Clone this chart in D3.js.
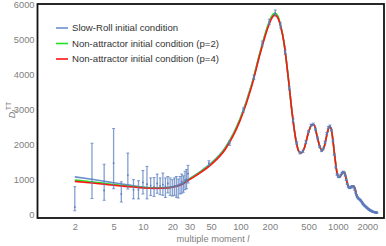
<!DOCTYPE html>
<html>
<head>
<meta charset="utf-8">
<script src="https://cdn.jsdelivr.net/npm/d3@7"></script>
<style>
  body { margin: 0; background: #fff; }
  svg { display: block; font-family: "Liberation Sans", Arial, sans-serif; }
</style>
</head>
<body>
<script>
// multipole grid shared by the three model curves
var curveEll = [2,3,4,5,7,10,13,16,20,25,30,40,50,70,100,130,160,190,210,225,240,260,280,310,340,370,400,420,450,500,
  540,570,610,650,690,730,780,820,850,890,930,980,1030,1080,1130,1170,1220,1270,1320,1380,1440,1490,1550,1620,1700,
  1800,1900,2000,2100,2200,2300,2400,2500];

var slowRoll = [1090,1020,965,920,860,800,775,775,805,890,1040,1270,1480,1930,2780,3720,4680,5380,5660,5740,5680,5380,4920,3900,2880,2150,1800,1775,1900,2370,
  2580,2570,2260,1960,1840,1990,2360,2530,2480,2110,1650,1200,1080,1140,1230,1210,1010,830,770,805,825,770,580,480,425,
  335,255,198,150,115,92,78,68];

var nonAttr2 = [1000,950,905,870,825,785,770,772,800,880,1025,1250,1460,1910,2760,3700,4670,5390,5690,5770,5700,5380,4920,3900,2880,2150,1800,1775,1900,2370,
  2580,2570,2260,1960,1840,1990,2360,2530,2480,2110,1650,1200,1080,1140,1230,1210,1010,830,770,805,825,770,580,480,425,
  335,255,198,150,115,92,78,68];

var nonAttr4 = [960,915,880,850,810,775,762,765,792,870,1010,1230,1440,1880,2720,3660,4630,5330,5630,5710,5650,5360,4910,3900,2880,2150,1800,1775,1900,2370,
  2580,2570,2260,1960,1840,1990,2360,2530,2480,2110,1650,1200,1080,1140,1230,1210,1010,830,770,805,825,770,580,480,425,
  335,255,198,150,115,92,78,68];

// low-l data points (unbinned)
var lowEll = [2,3,4,5,6,7,8,9,10,11,12,13,14,15,16,17,18,19,20,21,22,23,24,25,26,27,28,29];
var lowD   = [225,940,700,1480,600,1140,720,720,930,880,840,800,900,830,870,820,900,780,800,820,840,850,880,950,900,1000,1020,1180];
var lowLo  = [120,470,420,750,370,740,460,460,600,460,560,530,620,580,560,500,630,560,540,560,505,486,600,620,650,720,750,914];
var lowHi  = [810,2050,1450,2470,950,1770,1010,980,1270,1390,1060,1070,1170,1060,1200,1060,1100,1060,1010,1060,1100,1030,1100,1170,1120,1250,1300,1419];

// high-l binned data points
var binEll = [47.5,77.5,107.5,137.5,167.5,197.5,227.5,257.5,287.5,317.5,347.5,377.5,407.5,437.5,467.5,497.5,527.5,557.5,587.5,617.5,
  647.5,677.5,707.5,737.5,767.5,797.5,827.5,857.5,887.5,917.5,947.5,977.5,1007.5,1037.5,1067.5,1097.5,1127.5,1157.5,1187.5,1217.5,
  1247.5,1277.5,1307.5,1337.5,1367.5,1397.5,1427.5,1457.5,1487.5,1517.5,1547.5,1577.5,1607.5,1637.5,1667.5,1697.5,1727.5,1757.5,1787.5,1817.5,
  1847.5,1877.5,1907.5,1937.5,1967.5,1997.5,2027.5,2057.5,2087.5,2117.5,2147.5,2177.5,2207.5,2237.5,2267.5,2297.5,2327.5,2357.5,2387.5,2417.5,
  2447.5,2477.5,2507.5];
var binD = [1480,2050,3000,3930,4900,5520,5770,5420,4650,3620,2700,2060,1780,1820,2080,2380,2560,2590,2450,2200,
  1960,1840,1890,2080,2330,2500,2540,2420,2120,1720,1370,1160,1090,1090,1140,1200,1230,1210,1130,1010,
  890,810,770,775,805,825,820,785,720,640,570,515,480,460,445,425,395,365,335,305,
  285,265,248,232,215,198,182,168,155,143,133,123,114,106,99,92,86,82,78,75,
  72,69,66];
var binErr = [70,60,60,65,70,75,85,70,60,50,45,40,35,35,35,35,35,35,35,32,
  30,30,30,30,30,30,30,28,28,26,25,24,22,22,22,22,22,22,20,20,
  20,18,18,18,18,18,18,18,18,16,16,16,16,16,16,16,15,15,15,15,
  15,15,15,15,15,15,15,15,15,15,15,15,15,15,15,15,15,15,15,15,
  15,15,15];

var xTicks = [2,5,10,20,30,50,100,200,500,1000,2000];
var yTicks = [0,1000,2000,3000,4000,5000,6000];
var legendLabels = ["Slow-Roll initial condition","Non-attractor initial condition (p=2)","Non-attractor initial condition (p=4)"];
var colors = ["#6c8fcd","#22e022","#ff1414"];

var width = 386, height = 246;
var frame = {left: 37.5, right: 384, top: 4, bottom: 218};

var x = d3.scaleLog().domain([2, 2000]).range([74.8, 367.3]);
var y = d3.scaleLinear().domain([0, 6000]).range([215, 5]);

var svg = d3.select("body").append("svg")
    .attr("width", width)
    .attr("height", height);

// axes (labels only, no tick marks)
var yAxis = svg.append("g")
    .attr("transform", "translate(" + frame.left + ",0)")
    .call(d3.axisLeft(y).tickValues(yTicks).tickSize(0).tickPadding(3).tickFormat(d3.format("d")));
var xAxis = svg.append("g")
    .attr("transform", "translate(0," + frame.bottom + ")")
    .call(d3.axisBottom(x).tickValues(xTicks).tickSize(0).tickPadding(5).tickFormat(d3.format("d")));
[xAxis, yAxis].forEach(function(g) {
  g.select(".domain").remove();
  g.selectAll("text").attr("fill", "#808080").style("font-size", "9.3px").style("font-family", "'Liberation Sans', Arial, sans-serif");
});

// axis titles
var xt = svg.append("text")
    .attr("x", 213).attr("y", 242)
    .attr("text-anchor", "middle")
    .attr("fill", "#808080")
    .style("font-size", "9.3px");
xt.append("tspan").text("multiple moment ");
xt.append("tspan").style("font-style", "italic").text("l");

var yt = svg.append("text")
    .attr("transform", "translate(15,110) rotate(-90)")
    .attr("text-anchor", "middle")
    .attr("fill", "#808080")
    .style("font-size", "9px");
yt.append("tspan").style("font-style", "italic").text("D");
yt.append("tspan").style("font-style", "italic").style("font-size", "7px").attr("dy", 2).text("l");
yt.append("tspan").style("font-size", "7px").attr("dy", -6).text("TT");

// model curves
var clip = svg.append("clipPath").attr("id", "plotclip").append("rect")
    .attr("x", frame.left).attr("y", frame.top)
    .attr("width", frame.right - frame.left).attr("height", frame.bottom - frame.top);

var line = d3.line()
    .x(function(d) { return x(d[0]); })
    .y(function(d) { return y(d[1]); })
    .curve(d3.curveMonotoneX);

var plot = svg.append("g").attr("clip-path", "url(#plotclip)");

[slowRoll, nonAttr2, nonAttr4].forEach(function(series, i) {
  plot.append("path")
      .datum(curveEll.map(function(l, j) { return [l, series[j]]; }))
      .attr("fill", "none")
      .attr("stroke", colors[i])
      .attr("stroke-width", 1.6)
      .attr("d", line);
});

// data points with error bars
var barColor = "#5a7dbf";
var lowPts = lowEll.map(function(l, i) { return {l: l, d: lowD[i], lo: lowLo[i], hi: lowHi[i]}; });
var binPts = binEll.map(function(l, i) { return {l: l, d: binD[i], lo: binD[i] - binErr[i], hi: binD[i] + binErr[i]}; });
var allPts = lowPts.concat(binPts);

var pts = plot.selectAll("g.pt")
    .data(allPts)
  .enter().append("g")
    .attr("class", "pt")
    .attr("stroke", barColor)
    .attr("stroke-opacity", 0.75);

pts.append("line")
    .attr("x1", function(d) { return x(d.l); }).attr("x2", function(d) { return x(d.l); })
    .attr("y1", function(d) { return y(d.lo); }).attr("y2", function(d) { return y(d.hi); })
    .attr("stroke-width", 1.3);
pts.append("line")
    .attr("x1", function(d) { return x(d.l) - 1.5; }).attr("x2", function(d) { return x(d.l) + 1.5; })
    .attr("y1", function(d) { return y(d.lo); }).attr("y2", function(d) { return y(d.lo); })
    .attr("stroke-width", 1);
pts.append("line")
    .attr("x1", function(d) { return x(d.l) - 1.5; }).attr("x2", function(d) { return x(d.l) + 1.5; })
    .attr("y1", function(d) { return y(d.hi); }).attr("y2", function(d) { return y(d.hi); })
    .attr("stroke-width", 1);
pts.append("circle")
    .attr("cx", function(d) { return x(d.l); })
    .attr("cy", function(d) { return y(d.d); })
    .attr("r", 0.9)
    .attr("fill", barColor)
    .attr("stroke", "none");

// frame
svg.append("rect")
    .attr("x", frame.left).attr("y", frame.top)
    .attr("width", frame.right - frame.left).attr("height", frame.bottom - frame.top)
    .attr("fill", "none")
    .attr("stroke", "#111")
    .attr("stroke-width", 1.8);

// legend
var legend = svg.selectAll("g.legend")
    .data(legendLabels)
  .enter().append("g")
    .attr("class", "legend")
    .attr("transform", function(d, i) { return "translate(56," + (28 + i * 15.5) + ")"; });
legend.append("line")
    .attr("x1", 0).attr("x2", 12)
    .attr("stroke", function(d, i) { return colors[i]; })
    .attr("stroke-width", 1.6);
legend.append("text")
    .attr("x", 16).attr("y", 3.2)
    .attr("fill", "#333")
    .style("font-size", "9.6px")
    .text(function(d) { return d; });
</script>
</body>
</html>
